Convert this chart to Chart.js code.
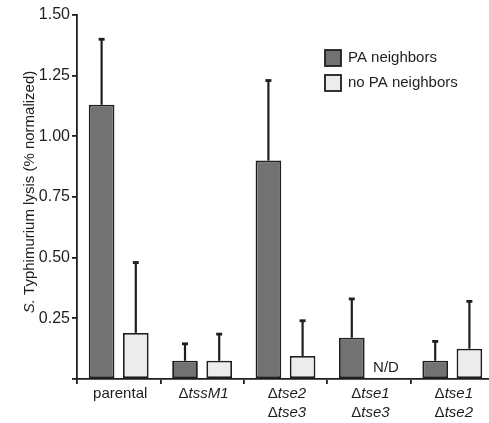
<!DOCTYPE html>
<html>
<head>
<meta charset="utf-8">
<script src="https://cdn.jsdelivr.net/npm/chart.js@4"></script>
<style>
  html, body { margin: 0; padding: 0; background: #fff; overflow: hidden; }
  #wrap { width: 489px; height: 423px; overflow: hidden; }
  #wrap div { width: 495px; height: 423px; }
</style>
</head>
<body>
<div id="wrap"><div><canvas id="lysis-chart"></canvas></div></div>
<script>
// categories: [prefix, italic part] for each line of the label
const categories = [
  [["parental", ""]],
  [["\u0394", "tssM1"]],
  [["\u0394", "tse2"], ["\u0394", "tse3"]],
  [["\u0394", "tse1"], ["\u0394", "tse3"]],
  [["\u0394", "tse1"], ["\u0394", "tse2"]]
];
const paValues = [1.13, 0.075, 0.90, 0.17, 0.075];
const paErrors = [0.27, 0.07, 0.33, 0.16, 0.08];
const noPaValues = [0.19, 0.075, 0.095, null, 0.125];
const noPaErrors = [0.29, 0.11, 0.145, null, 0.195];
const yTicks = [0, 0.25, 0.5, 0.75, 1.0, 1.25, 1.5];

const INK = "#1e1e1e";
const FONT = "'Liberation Sans', Arial, sans-serif";

// === error bars (upward only) ===
const errorBars = {
  id: "errorBars",
  afterDatasetsDraw(chart) {
    const ctx = chart.ctx;
    const y = chart.scales.y;
    const errs = [paErrors, noPaErrors];
    ctx.save();
    ctx.strokeStyle = INK;
    chart.data.datasets.forEach((ds, di) => {
      chart.getDatasetMeta(di).data.forEach((bar, i) => {
        const v = ds.data[i];
        if (v == null) return;
        const top = y.getPixelForValue(v + errs[di][i]);
        ctx.lineWidth = 2.2;
        ctx.beginPath();
        ctx.moveTo(bar.x, bar.y);
        ctx.lineTo(bar.x, top);
        ctx.stroke();
        ctx.lineWidth = 2.8;
        ctx.beginPath();
        ctx.moveTo(bar.x - 3, top);
        ctx.lineTo(bar.x + 3, top);
        ctx.stroke();
      });
    });
    ctx.restore();
  }
};

// === x labels with italic gene names, N/D mark, y title ===
const xLabels = {
  id: "xLabels",
  afterDraw(chart) {
    const ctx = chart.ctx;
    const x = chart.scales.x;
    const base = chart.chartArea.bottom;
    ctx.save();
    ctx.fillStyle = INK;
    ctx.textBaseline = "middle";
    categories.forEach((lines, i) => {
      const cx = x.getPixelForValue(i) + 1.5;
      lines.forEach((parts, li) => {
        ctx.font = "15px " + FONT;
        const w1 = ctx.measureText(parts[0]).width;
        ctx.font = "italic 15px " + FONT;
        const w2 = ctx.measureText(parts[1]).width;
        const sx = cx - (w1 + w2) / 2;
        const ly = base + 15 + li * 19;
        ctx.textAlign = "left";
        ctx.font = "15px " + FONT;
        ctx.fillText(parts[0], sx, ly);
        ctx.font = "italic 15px " + FONT;
        ctx.fillText(parts[1], sx + w1, ly);
      });
    });
    // N/D where there is no value
    const meta = chart.getDatasetMeta(1);
    noPaValues.forEach((v, i) => {
      if (v != null) return;
      ctx.font = "15px " + FONT;
      ctx.textAlign = "center";
      ctx.fillText("N/D", meta.data[i].x, base - 11);
    });

    // y axis title, "S." in italics
    ctx.translate(30, 192);
    ctx.rotate(-Math.PI / 2);
    ctx.font = "italic 15px " + FONT;
    const a = "S.";
    const wa = ctx.measureText(a).width;
    ctx.font = "15px " + FONT;
    const b = " Typhimurium lysis (% normalized)";
    const wb = ctx.measureText(b).width;
    ctx.textAlign = "left";
    ctx.font = "italic 15px " + FONT;
    ctx.fillText(a, -(wa + wb) / 2, 0);
    ctx.font = "15px " + FONT;
    ctx.fillText(b, -(wa + wb) / 2 + wa, 0);
    ctx.restore();
  }
};

// === legend inside the plot ===
const boxLegend = {
  id: "boxLegend",
  afterDraw(chart) {
    const ctx = chart.ctx;
    ctx.save();
    ctx.font = "15px " + FONT;
    ctx.textBaseline = "middle";
    ctx.textAlign = "left";
    chart.data.datasets.forEach((ds, i) => {
      const top = 50 + i * 25;
      ctx.fillStyle = ds.backgroundColor;
      ctx.fillRect(325, top, 16, 16);
      ctx.strokeStyle = INK;
      ctx.lineWidth = 1.8;
      ctx.strokeRect(325, top, 16, 16);
      ctx.fillStyle = INK;
      ctx.fillText(ds.label, 348, top + 8);
    });
    ctx.restore();
  }
};

new Chart(document.getElementById("lysis-chart"), {
  type: "bar",
  data: {
    labels: categories.map((_, i) => "c" + i),
    datasets: [
      {
        label: "PA neighbors",
        data: paValues,
        backgroundColor: "#727272",
        borderColor: INK,
        borderWidth: 1.8,
        borderSkipped: false
      },
      {
        label: "no PA neighbors",
        data: noPaValues,
        backgroundColor: "#ececec",
        borderColor: INK,
        borderWidth: 1.8,
        borderSkipped: false
      }
    ]
  },
  options: {
    responsive: true,
    maintainAspectRatio: false,
    animation: false,
    categoryPercentage: 0.82,
    barPercentage: 0.75,
    layout: { padding: { top: 15, right: 1, left: 0, bottom: 0 } },
    plugins: { legend: { display: false }, tooltip: { enabled: false } },
    scales: {
      x: {
        grid: { drawOnChartArea: false, drawTicks: true, tickLength: 5, color: INK, lineWidth: 1.8, offset: true },
        border: { color: INK, width: 1.8 },
        ticks: { display: false },
        afterFit: s => { s.height = 44; }
      },
      y: {
        min: 0,
        max: 1.5,
        afterBuildTicks: s => { s.ticks = yTicks.map(v => ({ value: v })); },
        ticks: {
          color: INK,
          padding: 2,
          font: { size: 16, family: FONT },
          callback: v => (v === 0 ? "" : v.toFixed(2))
        },
        grid: { drawOnChartArea: false, drawTicks: true, tickLength: 5, color: INK, lineWidth: 1.8 },
        border: { color: INK, width: 1.8 },
        afterFit: s => { s.width = 77; }
      }
    }
  },
  plugins: [errorBars, xLabels, boxLegend]
});
</script>
</body>
</html>
